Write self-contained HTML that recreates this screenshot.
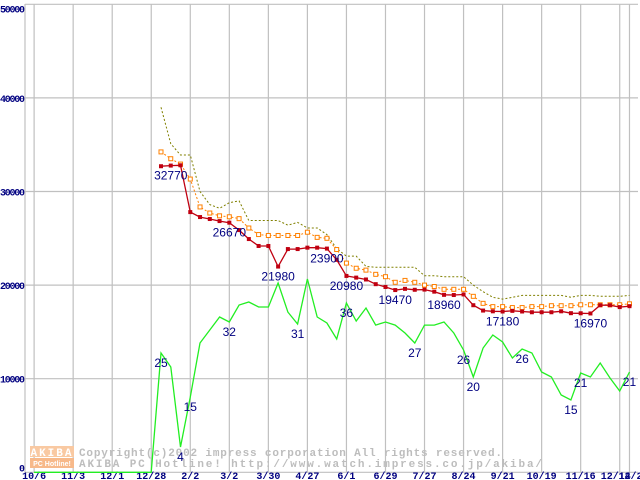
<!DOCTYPE html>
<html><head><meta charset="utf-8"><style>
body{margin:0;background:#fff;}
svg{display:block;font-family:"Liberation Sans",sans-serif;}
</style></head><body>
<svg id="chart" width="640" height="480" viewBox="0 0 640 480" xmlns="http://www.w3.org/2000/svg">
<g id="grid"></g>
<g id="wm">
 <rect x="30" y="446" width="44" height="11" fill="#f9c9a2"/>
 <text x="52" y="456" font-size="11" font-weight="bold" fill="#fff" text-anchor="middle" letter-spacing="2" font-family="Liberation Mono,monospace">AKIBA</text>
 <rect x="30" y="458" width="44" height="10" fill="#f7b98a"/>
 <text x="52" y="466" font-size="7" font-weight="bold" fill="#fff" text-anchor="middle">PC Hotline!</text>
 <text x="79" y="456" font-size="11" font-weight="bold" fill="#bdbdbd" font-family="Liberation Mono,monospace" textLength="423">Copyright(c)2002 impress corporation All rights reserved.</text>
 <text x="79" y="467" font-size="11" font-weight="bold" fill="#bdbdbd" font-family="Liberation Mono,monospace" textLength="463">AKIBA PC Hotline!  http://www.watch.impress.co.jp/akiba/</text>
</g>
<g id="series"></g>
<g id="labels"></g>
</svg>
<script>
const xTickLabels=["10/6","11/3","12/1","12/28","2/2","3/2","3/30","4/27","6/1","6/29","7/27","8/24","9/21","10/19","11/16","12/14","12/21"];
const xTickIdx=[-13,-9,-5,-1,3,7,11,15,19,23,27,31,35,39,43,47,48];
const yTicks=[0,10000,20000,30000,40000,50000];
const redVals=[32700,32770,32800,27800,27270,27060,26840,26670,25880,24920,24180,24180,21980,23850,23850,24000,24000,23900,22700,20980,20800,20600,20100,19800,19470,19600,19500,19520,19300,18960,18940,19000,17850,17280,17200,17180,17250,17180,17100,17100,17100,17200,17000,16990,16970,17850,17850,17650,17750];
const orangeVals=[34230,33500,32930,31330,28350,27700,27400,27300,27100,26100,25400,25300,25300,25300,25300,25650,25100,25000,23800,22350,21800,21600,21150,20900,20300,20500,20300,20000,19850,19550,19550,19550,18800,18050,17700,17700,17600,17600,17700,17700,17800,17800,17800,17900,17900,17900,17900,17900,18000];
const oliveVals=[39000,35100,33900,33900,30000,28600,28200,28800,29000,26900,26900,26900,26900,26400,26700,26100,26100,25400,23900,23100,23100,22000,21900,21900,21900,21900,21900,21000,21000,20900,20900,20900,20000,19300,18700,18500,18700,18900,18900,18900,18900,18900,18700,18900,18900,18800,18800,18800,18900];
const greenVals=[12750,11250,2700,8040,13810,15200,16590,16060,17870,18190,17660,17660,20220,17120,15840,20650,16590,15950,14240,18090,16160,17550,15730,16060,15730,14880,13810,15730,15730,16060,14880,13060,10180,13280,14670,13920,12210,13170,12750,10720,10180,8260,7720,10610,10180,11680,10080,8690,10720];
const greenLeadIdx=[-13,-1];
const greenLeadVals=[0,0];
const redLabels=[[1,"32770"],[7,"26670"],[12,"21980"],[17,"23900"],[19,"20980"],[24,"19470"],[29,"18960"],[35,"17180"],[44,"16970"]];
const greenLabels=[[0,"25"],[2,"4"],[3,"15"],[7,"32"],[14,"31"],[19,"36"],[26,"27"],[31,"26"],[32,"20"],[37,"26"],[42,"15"],[43,"21"],[48,"21"]];
const NS="http://www.w3.org/2000/svg";
function X(i){return 161+9.76*i;}
function Y(v){return 472.3-v*0.00936;}
function mk(tag,attrs,parent){const e=document.createElementNS(NS,tag);for(const k in attrs)e.setAttribute(k,attrs[k]);parent.appendChild(e);return e;}
const grid=document.getElementById('grid'),ser=document.getElementById('series'),lab=document.getElementById('labels');
yTicks.forEach(v=>{
 const l=mk('line',{x1:25,x2:638,y1:Y(v),y2:Y(v),stroke:'#c0c0c0','stroke-width':1.2},grid);
 
 
 const t=mk('text',{x:25,y:Y(v)+(v===50000?8:(v===0?-1:4)),'font-size':10,'font-weight':'bold',fill:'#000080','text-anchor':'end','font-family':'Liberation Mono,monospace',textLength:v===0?6:25},grid);
 t.textContent=String(v);
 
 
});
const ax=mk('line',{x1:25,x2:25,y1:4,y2:472,stroke:'#c0c0c0','stroke-width':1.2},grid);


xTickIdx.forEach((i,k)=>{
 const l=mk('line',{x1:X(i),x2:X(i),y1:4,y2:472,stroke:'#c0c0c0','stroke-width':1.2},grid);
 
 
 const t=mk('text',{x:X(i)+(k==15?-4:k==16?4:0),y:479,'font-size':10,'font-weight':'bold',fill:'#000080','text-anchor':'middle','font-family':'Liberation Mono,monospace'},grid);
 t.textContent=xTickLabels[k];
 
 
});
function pts(vals,off){return vals.map((v,i)=>X(i+off).toFixed(1)+','+Y(v).toFixed(1)).join(' ');}
let gp=greenLeadIdx.map((i,k)=>X(i).toFixed(1)+','+Y(greenLeadVals[k]).toFixed(1)).join(' ')+' '+pts(greenVals,0);
const g=mk('polyline',{points:gp,fill:'none',stroke:'#22ee22','stroke-width':1.3},ser);


const ol=mk('polyline',{points:pts(oliveVals,0),fill:'none',stroke:'#808000','stroke-width':1,'stroke-dasharray':'2,2'},ser);


const or=mk('polyline',{points:pts(orangeVals,0),fill:'none',stroke:'#ff8000','stroke-width':1,'stroke-dasharray':'2,2'},ser);


orangeVals.forEach((v,i)=>{
 const r=mk('rect',{x:X(i)-2,y:Y(v)-2,width:4,height:4,fill:'#fff',stroke:'#ff8000','stroke-width':1},ser);
 
 
});
const rl=mk('polyline',{points:pts(redVals,0),fill:'none',stroke:'#c00010','stroke-width':1.3},ser);


redVals.forEach((v,i)=>{
 const r=mk('rect',{x:X(i)-2,y:Y(v)-2,width:4,height:4,fill:'#c00010'},ser);
 
 
});
redLabels.forEach(([i,s])=>{
 const t=mk('text',{x:X(i),y:Y(redVals[i])+14,'font-size':12,fill:'#000080','text-anchor':'middle'},lab);
 t.textContent=s;
 
 
});
greenLabels.forEach(([i,s])=>{
 const t=mk('text',{x:X(i),y:Y(greenVals[i])+14,'font-size':12,fill:'#000080','text-anchor':'middle'},lab);
 t.textContent=s;
 
 
});
</script>
</body></html>
